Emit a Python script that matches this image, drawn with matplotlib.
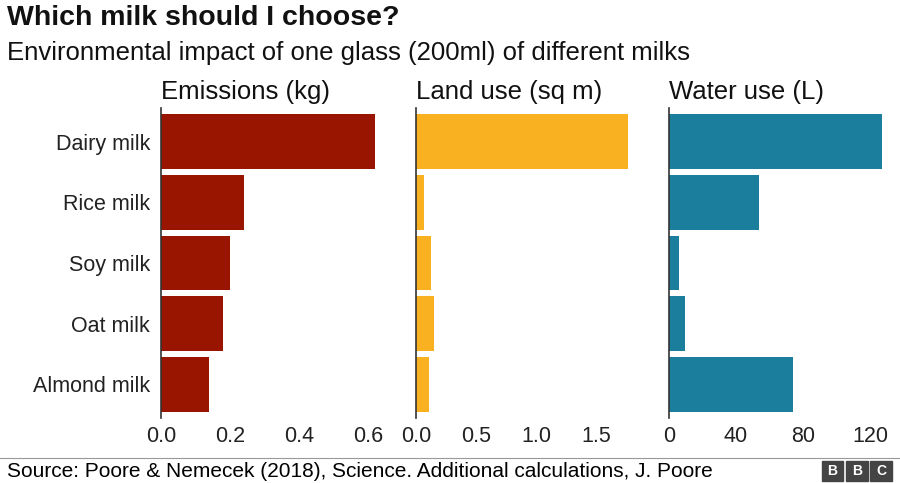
import matplotlib
matplotlib.use("Agg")
import matplotlib.pyplot as plt
from matplotlib.patches import Rectangle

plt.rcParams["font.family"] = "Liberation Sans"

milks = ["Dairy milk", "Rice milk", "Soy milk", "Oat milk", "Almond milk"]
emissions = [0.62, 0.24, 0.20, 0.18, 0.14]
land = [1.76, 0.07, 0.13, 0.15, 0.11]
water = [127, 54, 6, 10, 74]
panels = [
    ("Emissions (kg)", emissions, "#991500", (0, 0.7), [0, 0.2, 0.4, 0.6], ["0.0", "0.2", "0.4", "0.6"]),
    ("Land use (sq m)", land, "#f9b021", (0, 2.0), [0, 0.5, 1.0, 1.5], ["0.0", "0.5", "1.0", "1.5"]),
    ("Water use (L)", water, "#1a7e9c", (0, 133), [0, 40, 80, 120], ["0", "40", "80", "120"]),
]
lefts = [0.179, 0.462, 0.743]
widths = [0.268, 0.268, 0.248]

fig = plt.figure(figsize=(9, 4.83), dpi=100)
fig.text(0.008, 0.962, "Which milk should I choose?", fontsize=20.5, fontweight="bold", va="center", color="#111111")
fig.text(0.008, 0.89, "Environmental impact of one glass (200ml) of different milks", fontsize=18.5, va="center", color="#111111")

y = list(range(len(milks)))
for i, (title, vals, col, xl, ticks, tl) in enumerate(panels):
    ax = fig.add_axes([lefts[i], 0.135, widths[i], 0.641])
    ax.barh(y, vals, height=0.9, color=col)
    ax.set_xlim(*xl)
    ax.set_ylim(4.55, -0.55)
    ax.set_xticks(ticks)
    ax.set_xticklabels(tl, fontsize=15.5)
    ax.tick_params(axis="x", length=0, pad=6, colors="#222222")
    for s in ["top", "right", "bottom"]:
        ax.spines[s].set_visible(False)
    ax.spines["left"].set_color("#333333")
    ax.spines["left"].set_linewidth(1.2)
    ax.text(0, 1.015, title, transform=ax.transAxes, fontsize=18.5, ha="left", va="bottom", color="#111111")
    if i == 0:
        ax.set_yticks(y)
        ax.set_yticklabels(milks, fontsize=15.5)
        ax.tick_params(axis="y", length=0, pad=8, colors="#222222")
    else:
        ax.set_yticks([])

fig.add_artist(plt.Line2D([0, 1], [0.052, 0.052], color="#999999", lw=0.8, transform=fig.transFigure))
fig.text(0.008, 0.024, "Source: Poore & Nemecek (2018), Science. Additional calculations, J. Poore", fontsize=15, va="center")
for k, ch in enumerate("BBC"):
    x0 = 0.913 + k * 0.027
    fig.add_artist(Rectangle((x0, 0.005), 0.024, 0.04, transform=fig.transFigure, color="#444444"))
    fig.text(x0 + 0.012, 0.025, ch, color="white", fontsize=10, fontweight="bold", ha="center", va="center")

fig.savefig("out.png", dpi=100)
